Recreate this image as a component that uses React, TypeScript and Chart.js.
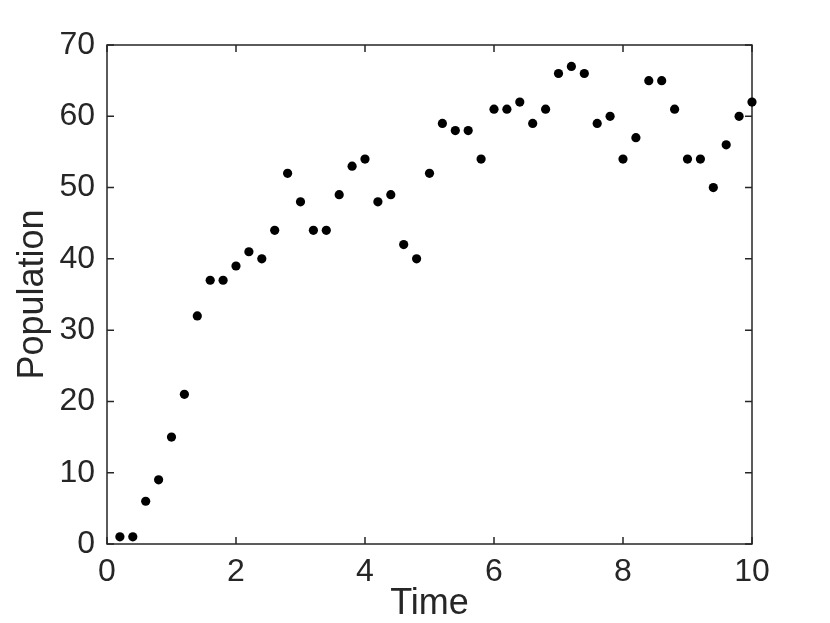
import React, { useEffect, useRef } from "react";
import { Chart, registerables } from "chart.js";

Chart.register(...registerables);

const times = [
  0.2, 0.4, 0.6, 0.8, 1.0, 1.2, 1.4, 1.6, 1.8, 2.0,
  2.2, 2.4, 2.6, 2.8, 3.0, 3.2, 3.4, 3.6, 3.8, 4.0,
  4.2, 4.4, 4.6, 4.8, 5.0, 5.2, 5.4, 5.6, 5.8, 6.0,
  6.2, 6.4, 6.6, 6.8, 7.0, 7.2, 7.4, 7.6, 7.8, 8.0,
  8.2, 8.4, 8.6, 8.8, 9.0, 9.2, 9.4, 9.6, 9.8, 10.0,
];
const population = [
  1, 1, 6, 9, 15, 21, 32, 37, 37, 39,
  41, 40, 44, 52, 48, 44, 44, 49, 53, 54,
  48, 49, 42, 40, 52, 59, 58, 58, 54, 61,
  61, 62, 59, 61, 66, 67, 66, 59, 60, 54,
  57, 65, 65, 61, 54, 54, 50, 56, 60, 62,
];
const xTitle = "Time";
const yTitle = "Population";

const AXIS_COLOR = "#262626";
const FONT = "'Liberation Sans', Arial, Helvetica, sans-serif";

const boxPlugin = {
  id: "matlabBox",
  beforeDatasetsDraw(chart: any) {
    const { ctx, chartArea, scales } = chart;
    const { left, right, top, bottom } = chartArea;
    const tl = 7;
    ctx.save();
    ctx.strokeStyle = AXIS_COLOR;
    ctx.lineWidth = 1.5;
    ctx.beginPath();
    scales.x.ticks.forEach((t: any) => {
      const px = scales.x.getPixelForValue(t.value);
      ctx.moveTo(px, bottom);
      ctx.lineTo(px, bottom - tl);
      ctx.moveTo(px, top);
      ctx.lineTo(px, top + tl);
    });
    scales.y.ticks.forEach((t: any) => {
      const py = scales.y.getPixelForValue(t.value);
      ctx.moveTo(left, py);
      ctx.lineTo(left + tl, py);
      ctx.moveTo(right, py);
      ctx.lineTo(right - tl, py);
    });
    ctx.stroke();
    ctx.strokeRect(left, top, right - left, bottom - top);
    ctx.restore();
  },
};

export default function App() {
  const ref = useRef<HTMLCanvasElement>(null);
  useEffect(() => {
    if (!ref.current) return;
    const chart = new Chart(ref.current, {
      type: "scatter",
      data: {
        datasets: [
          {
            data: times.map((t, i) => ({ x: t, y: population[i] })),
            backgroundColor: "#000000",
            borderColor: "#000000",
            pointRadius: 4.6,
            pointBorderWidth: 0,
            clip: false as any,
          },
        ],
      },
      options: {
        animation: false,
        responsive: false,
        maintainAspectRatio: false,
        layout: { padding: { left: 0, right: 78, top: 45, bottom: 0 } },
        plugins: {
          legend: { display: false },
          tooltip: { enabled: false },
        },
        scales: {
          x: {
            type: "linear",
            min: 0,
            max: 10,
            grid: { display: false, drawTicks: false },
            border: { display: false },
            ticks: {
              stepSize: 2,
              padding: 9,
              color: AXIS_COLOR,
              font: { family: FONT, size: 32 },
              maxRotation: 0,
            },
            title: {
              display: true,
              text: xTitle,
              color: AXIS_COLOR,
              font: { family: FONT, size: 36, lineHeight: 1 },
              padding: { top: 0, bottom: 1 },
            },
            afterFit(scale: any) {
              scale.height = 79;
            },
          },
          y: {
            type: "linear",
            min: 0,
            max: 70,
            grid: { display: false, drawTicks: false },
            border: { display: false },
            ticks: {
              stepSize: 10,
              padding: 12,
              color: AXIS_COLOR,
              font: { family: FONT, size: 32 },
            },
            title: {
              display: true,
              text: yTitle,
              color: AXIS_COLOR,
              font: { family: FONT, size: 36, lineHeight: 1 },
              padding: { top: 15, bottom: 0 },
            },
            afterFit(scale: any) {
              scale.width = 107;
            },
          },
        },
      },
      plugins: [boxPlugin],
    });
    return () => chart.destroy();
  }, []);
  return (
    <div style={{ position: "fixed", left: 0, top: 0, width: 830, height: 623, background: "#fff" }}>
      <canvas ref={ref} width={830} height={623} style={{ width: 830, height: 623 }} />
    </div>
  );
}
